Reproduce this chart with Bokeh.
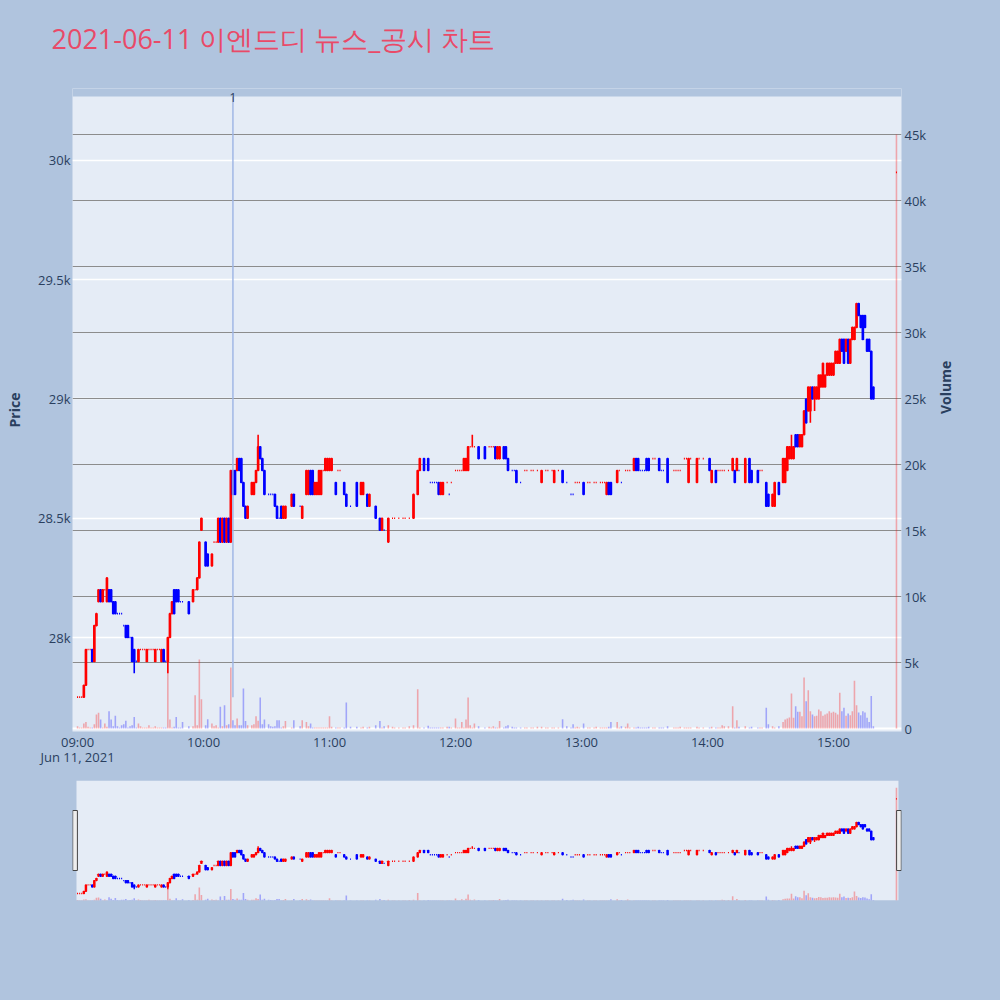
import numpy as np
import pandas as pd
from bokeh.plotting import figure
from bokeh.layouts import column
from bokeh.models import (ColumnDataSource, Range1d, LinearAxis, FixedTicker,
                          DatetimeTickFormatter, Grid, Label, GlobalInlineStyleSheet)
from bokeh.embed import file_html
from bokeh.resources import INLINE

TITLE = "2021-06-11 이엔드디 뉴스_공시 차트"
SESSION_DATE = "2021-06-11"
SESSION_START = "09:00"

# one entry per minute from 09:00 (None = no trade in that minute)
opens = [
    27750, 27750, 27750, 27750, 27800, 27950, 27950, 27950, 27900, 28050,
    28150, 28200, 28150, 28200, 28150, 28200, 28200, 28150, 28150, 28100,
    28100, 28100, 28050, 28050, 28050, 28000, 28000, 27950, 27900, 27900,
    27950, 27950, 27950, 27900, 27950, 27950, 27950, 27900, 27950, 27950,
    27900, 27950, 27900, 27900, 28000, 28100, 28200, 28200, 28200, 28150,
    28150, None, None, 28150, None, 28150, 28200, 28200, 28250, 28450,
    None, 28400, 28350, None, 28300, 28400, 28400, 28400, 28500, 28400,
    28500, 28400, 28500, 28400, 28700, 28700, 28700, 28750, 28750, 28650,
    28550, 28500, None, 28600, 28600, 28650, 28700, 28800, 28750, 28700,
    None, 28600, 28600, 28600, 28600, 28550, 28500, 28550, 28500, 28500,
    None, None, 28550, 28600, None, None, 28550, 28500, None, 28600,
    28600, 28700, 28700, 28600, 28600, 28600, 28600, 28700, 28700, 28700,
    28700, 28700, None, 28650, 28700, 28700, None, 28650, 28600, None,
    28550, None, None, 28650, None, 28600, 28600, None, 28600, 28550,
    None, None, 28550, None, 28500, 28450, 28450, None, 28400, None,
    28500, 28500, None, 28500, None, 28500, 28500, None, 28500, None,
    28500, None, 28600, 28700, None, 28750, None, 28750, 28650, 28650,
    28650, 28650, 28650, 28600, 28600, None, 28650, 28600, 28650, None,
    28700, 28700, 28700, 28700, 28700, 28700, 28700, 28800, 28800, 28800,
    None, 28800, None, None, 28800, None, 28800, 28800, 28800, 28800,
    28750, 28750, None, 28800, 28800, 28750, None, 28700, 28700, 28700,
    None, 28650, None, 28700, 28700, None, 28700, 28700, None, 28700,
    None, 28650, None, 28700, 28700, None, 28700, 28650, None, 28700,
    None, 28700, None, 28650, None, 28600, 28600, 28650, 28650, 28650,
    None, 28650, None, 28650, 28650, None, 28650, 28650, None, 28650,
    28650, 28650, 28600, 28650, 28650, None, None, 28650, 28700, 28650,
    None, 28700, 28700, 28700, None, 28700, 28750, 28750, 28700, 28700,
    28700, 28750, 28750, None, 28750, 28750, None, 28750, 28700, 28700,
    None, 28750, None, None, 28700, 28700, 28700, 28700, None, 28750,
    28750, 28650, 28750, None, None, 28650, 28750, None, 28750, None,
    None, 28750, 28650, None, 28700, 28700, 28700, 28700, 28700, None,
    28700, None, 28700, 28700, 28700, 28700, None, None, 28650, None,
    28750, 28700, None, None, 28700, 28700, 28700, None, 28650, 28600,
    None, 28550, 28550, None, 28650, None, 28650, 28650, 28700, 28750,
    28750, 28750, 28850, 28850, 28800, 28800, 28850, 29000, 28950, 28950,
    29050, 29000, 29000, 29000, 29050, 29050, 29050, 29100, 29100, 29100,
    29100, 29150, 29150, 29150, 29250, 29250, 29200, 29250, 29150, 29250,
    29250, 29300, 29400, 29350, 29350, 29350, 29250, 29250, 29200, 29050,
]
closes = [
    27750, 27750, 27750, 27800, 27950, 27950, 27950, 27900, 28050, 28100,
    28200, 28150, 28200, 28200, 28250, 28150, 28150, 28100, 28100, 28100,
    28100, 28100, 28050, 28000, 28000, 28000, 27900, 27900, 27900, 27950,
    27950, 27950, 27950, 27950, 27950, 27950, 27950, 27950, 27950, 27950,
    27950, 27900, 27900, 28000, 28100, 28150, 28100, 28150, 28150, 28150,
    28150, None, None, 28100, None, 28200, 28200, 28250, 28400, 28500,
    None, 28300, 28300, None, 28350, 28400, 28400, 28500, 28400, 28500,
    28400, 28500, 28400, 28700, 28600, 28600, 28750, 28700, 28650, 28550,
    28500, 28550, None, 28650, 28650, 28700, 28800, 28750, 28700, 28600,
    None, 28600, 28600, 28600, 28550, 28500, 28500, 28500, 28550, 28550,
    None, None, 28600, 28550, None, None, 28550, 28550, None, 28700,
    28700, 28600, 28600, 28650, 28650, 28700, 28700, 28700, 28750, 28750,
    28750, 28750, None, 28600, 28700, 28700, None, 28600, 28550, None,
    28550, None, None, 28550, None, 28650, 28650, None, 28550, 28600,
    None, None, 28500, None, 28450, 28500, 28450, None, 28500, None,
    28500, 28500, None, 28500, None, 28500, 28500, None, 28500, None,
    28600, None, 28700, 28750, None, 28700, None, 28700, 28650, 28650,
    28650, 28650, 28600, 28650, 28650, None, 28650, 28600, 28650, None,
    28700, 28700, 28700, 28700, 28750, 28750, 28800, 28800, 28800, 28800,
    None, 28750, None, None, 28750, None, 28800, 28800, 28800, 28750,
    28800, 28800, None, 28750, 28750, 28700, None, 28700, 28700, 28650,
    None, 28650, None, 28700, 28700, None, 28700, 28700, None, 28700,
    None, 28700, None, 28700, 28700, None, 28700, 28700, None, 28700,
    None, 28650, None, 28650, None, 28600, 28600, 28650, 28650, 28650,
    None, 28600, None, 28650, 28650, None, 28650, 28650, None, 28650,
    28650, 28650, 28650, 28600, 28600, None, None, 28700, 28700, 28650,
    None, 28700, 28700, 28700, None, 28750, 28700, 28700, 28700, 28700,
    28700, 28700, 28700, None, 28750, 28750, None, 28700, 28700, 28700,
    None, 28650, None, None, 28700, 28700, 28700, 28700, None, 28750,
    28750, 28750, 28750, None, None, 28750, 28750, None, 28750, None,
    None, 28700, 28700, None, 28650, 28700, 28700, 28700, 28700, None,
    28700, None, 28750, 28650, 28750, 28700, None, None, 28750, None,
    28650, 28650, None, None, 28650, 28700, 28700, None, 28550, 28550,
    None, 28600, 28650, None, 28600, None, 28750, 28750, 28800, 28800,
    28800, 28800, 28800, 28800, 28850, 28850, 28950, 28900, 29050, 29050,
    29000, 29050, 29050, 29100, 29100, 29150, 29100, 29150, 29150, 29150,
    29150, 29200, 29200, 29250, 29200, 29150, 29250, 29150, 29250, 29300,
    29300, 29400, 29350, 29300, 29250, 29300, 29200, 29200, 29000, 29000,
]
volumes = [
    175, 80, 80, 380, 500, 130, 80, 80, 330, 1060,
    1190, 680, 80, 380, 130, 1310, 680, 180, 960, 180,
    80, 250, 330, 580, 80, 180, 250, 880, 80, 380,
    180, 80, 80, 80, 250, 80, 80, 180, 80, 80,
    80, 80, 80, 4920, 680, 80, 130, 880, 80, 80,
    500, None, None, 180, None, 180, 2525, 250, 5230, 2220,
    None, 250, 700, None, 380, 180, 250, 80, 1640, 180,
    1770, 250, 330, 4620, 630, 250, 760, 250, 250, 3030,
    560, 250, None, 250, 330, 930, 580, 2350, 330, 680,
    None, 330, 180, 130, 180, 630, 630, 80, 180, 560,
    None, None, 80, 630, None, None, 180, 630, None, 500,
    180, 380, 80, 80, 80, 80, 80, 80, 80, 80,
    930, 130, None, 80, 80, 80, None, 80, 1970, None,
    130, None, None, 130, None, 80, 130, None, 80, 130,
    None, None, 250, None, 560, 80, 180, None, 250, None,
    130, 80, None, 80, None, 80, 80, None, 180, None,
    250, None, 2980, 80, None, 80, None, 200, 80, 80,
    80, 80, 80, 80, 80, None, 130, 130, 80, None,
    760, 80, 80, 500, 80, 680, 2350, 250, 80, 380,
    None, 180, None, None, 80, None, 130, 80, 180, 80,
    80, 560, None, 80, 180, 250, None, 130, 80, 80,
    None, 80, None, 80, 80, None, 80, 80, None, 130,
    None, 130, None, 80, 80, None, 80, 80, None, 80,
    None, 700, None, 180, None, 80, 330, 80, 130, 80,
    None, 380, None, 80, 80, None, 80, 130, None, 80,
    80, 80, 80, 130, 500, None, None, 500, 80, 180,
    None, 130, 380, 80, None, 80, 80, 130, 80, 80,
    80, 80, 130, None, 80, 80, None, 80, 80, 80,
    None, 180, None, None, 80, 80, 80, 130, None, 80,
    80, 80, 80, None, None, 130, 80, None, 80, None,
    None, 80, 130, None, 80, 80, 80, 250, 180, None,
    180, None, 1690, 80, 630, 130, None, None, 180, None,
    80, 130, None, None, 80, 80, 80, None, 1570, 330,
    None, 180, 80, None, 180, None, 500, 680, 760, 830,
    2650, 810, 1690, 1260, 1260, 930, 3860, 2070, 2900, 1310,
    1060, 930, 960, 1440, 1310, 960, 1060, 1140, 1310, 1190,
    1260, 1190, 1060, 2700, 1310, 1570, 960, 1140, 1010, 1310,
    3610, 1770, 1210, 1010, 1310, 1210, 810, 500, 2470, 180,
]
# wicks beyond the candle bodies (minute index -> price)
wick_high = {14: 28250, 86: 28850, 188: 28850, 340: 28850}
wick_low = {27: 27850, 43: 27850, 349: 28900, 351: 28950}

CLOSING_TIME = "15:30"
closing_price = 29950
closing_volume = 45000

news_times = ["10:14"]
news_labels = ["1"]

price_ticks = [28000, 28500, 29000, 29500, 30000]
price_tick_labels = ["28k", "28.5k", "29k", "29.5k", "30k"]
volume_ticks = [0, 5000, 10000, 15000, 20000, 25000, 30000, 35000, 40000, 45000]
volume_tick_labels = ["0", "5k", "10k", "15k", "20k", "25k", "30k", "35k", "40k", "45k"]
hour_ticks = ["09:00", "10:00", "11:00", "12:00", "13:00", "14:00", "15:00"]

# ---------------- styling ----------------
PAPER = "#B0C4DE"
PLOT_BG = "#E5ECF6"
FONT = "Open Sans"
TXT = "#2a3f5f"
UP = "#FF0000"
DOWN = "#0000FF"
TITLE_COLOR = "#E94A68"

PRICE_RANGE = (27606, 30268)      # visible plot area
VOL_RANGE = (-227, 47879)
PLOT_PX = 635                      # height of the visible plot area
TOP_STRIP_PX = 8                   # paper-coloured strip above it (room for the marker label)
SLIDER_PRICE_RANGE = (27587, 30377)
SLIDER_VOL_RANGE = (0, 47879)

# ---------------- build table ----------------
base = pd.Timestamp(f"{SESSION_DATE} {SESSION_START}")
rows = []
for i, (o, c, v) in enumerate(zip(opens, closes, volumes)):
    if o is None or c is None or v is None:
        continue
    rows.append(dict(t=base + pd.Timedelta(minutes=i), open=o, close=c,
                     high=wick_high.get(i, max(o, c)), low=wick_low.get(i, min(o, c)),
                     volume=v))
t_close = pd.Timestamp(f"{SESSION_DATE} {CLOSING_TIME}")
rows.append(dict(t=t_close, open=closing_price, close=closing_price, high=closing_price,
                 low=closing_price, volume=closing_volume))
df = pd.DataFrame(rows)

inc = []
prev_c, prev_dir = None, True
for o, c in zip(df["open"], df["close"]):
    if c > o:
        d = True
    elif c < o:
        d = False
    elif prev_c is not None and c != prev_c:
        d = c > prev_c
    else:
        d = prev_dir
    inc.append(d)
    prev_c, prev_dir = c, d
df["color"] = [UP if d else DOWN for d in inc]
df["body_top"] = df[["open", "close"]].max(axis=1)
df["body_bot"] = df[["open", "close"]].min(axis=1)
src = ColumnDataSource(df)

MIN = 60_000
x_start = df["t"].iloc[0] - pd.Timedelta(seconds=144)
x_end = df["t"].iloc[-1] + pd.Timedelta(seconds=144)
xr = Range1d(x_start, x_end)

price_per_px = (PRICE_RANGE[1] - PRICE_RANGE[0]) / PLOT_PX
vol_per_px = (VOL_RANGE[1] - VOL_RANGE[0]) / PLOT_PX
price_top_ext = PRICE_RANGE[1] + TOP_STRIP_PX * price_per_px
vol_top_ext = VOL_RANGE[1] + TOP_STRIP_PX * vol_per_px

# ---------------- title strip ----------------
p0 = figure(width=1000, height=88, output_backend="svg", toolbar_location=None,
            x_axis_location=None, y_axis_location=None,
            min_border_left=0, min_border_right=0, min_border_top=0, min_border_bottom=0,
            background_fill_color=PAPER, border_fill_color=PAPER, outline_line_color=None)
p0.grid.visible = False
p0.title.text = TITLE
p0.title.text_font = FONT
p0.title.text_font_size = "27px"
p0.title.text_font_style = "normal"
p0.title.text_color = TITLE_COLOR
p0.title.align = "left"
p0.title.vertical_align = "top"
p0.title.offset = -21
p0.title.standoff = 38

# ---------------- main figure ----------------
p = figure(width=1000, height=690, x_axis_type="datetime", x_range=xr,
           y_range=Range1d(PRICE_RANGE[0], price_top_ext), output_backend="svg",
           toolbar_location=None,
           min_border_left=72, min_border_right=99, min_border_top=0, min_border_bottom=47,
           background_fill_color=PLOT_BG, border_fill_color=PAPER, outline_line_color=None)
p.extra_y_ranges = {"vol": Range1d(VOL_RANGE[0], vol_top_ext)}

# grids
p.xgrid.visible = False
p.ygrid.ticker = FixedTicker(ticks=price_ticks)
p.ygrid.grid_line_color = "white"
p.ygrid.grid_line_width = 1.5
p.add_layout(Grid(dimension=1, y_range_name="vol", ticker=FixedTicker(ticks=volume_ticks[1:]),
                  grid_line_color="#8c8c8c", grid_line_width=1.2))
p.add_layout(Grid(dimension=1, y_range_name="vol", ticker=FixedTicker(ticks=[0]),
                  grid_line_color="white", grid_line_width=2))

# axes
vol_axis = LinearAxis(y_range_name="vol", ticker=FixedTicker(ticks=volume_ticks),
                      major_label_overrides=dict(zip(volume_ticks, volume_tick_labels)))
p.add_layout(vol_axis, "right")
# right-hand axis title, reading bottom-to-top like the left one
mid_price = int((PRICE_RANGE[0] + PRICE_RANGE[1]) // 2)
vol_title_axis = LinearAxis(ticker=FixedTicker(ticks=[mid_price]),
                            major_label_overrides={mid_price: "Volume"},
                            major_label_orientation=np.pi / 2)
p.add_layout(vol_title_axis, "right")

p.yaxis[0].ticker = FixedTicker(ticks=price_ticks)
p.yaxis[0].major_label_overrides = dict(zip(price_ticks, price_tick_labels))
p.yaxis[0].axis_label = "Price"
p.yaxis[0].axis_label_standoff = 11

hour_ms = [pd.Timestamp(f"{SESSION_DATE} {h}").value // 10**6 for h in hour_ticks]
p.xaxis[0].ticker = FixedTicker(ticks=hour_ms)
p.xaxis[0].formatter = DatetimeTickFormatter(minutes="%H:%M", hourmin="%H:%M", hours="%H:%M",
                                             context="%b %d, %Y", context_which="start")

for ax in [p.xaxis[0], p.yaxis[0], vol_axis, vol_title_axis]:
    ax.axis_line_color = None
    ax.major_tick_line_color = None
    ax.minor_tick_line_color = None
    ax.major_tick_out = 0
    ax.major_tick_in = 0
    ax.minor_tick_out = 0
    ax.minor_tick_in = 0
    ax.major_label_text_font = FONT
    ax.major_label_text_font_size = "13px"
    ax.major_label_text_color = TXT
    ax.axis_label_text_font = FONT
    ax.axis_label_text_font_size = "14px"
    ax.axis_label_text_font_style = "bold"
    ax.axis_label_text_color = TXT
p.yaxis[0].major_label_standoff = 2
p.yaxis[0].axis_label_text_line_height = 1.0
vol_axis.major_label_standoff = 3
vol_title_axis.major_label_standoff = 16
vol_title_axis.major_label_text_font_size = "14px"
vol_title_axis.major_label_text_font_style = "bold"
p.xaxis[0].major_label_standoff = 1
p.xaxis[0].major_label_text_line_height = 0.85

# paper-coloured strip above the plot area
p.quad(left=[x_start], right=[x_end], bottom=[PRICE_RANGE[1]], top=[price_top_ext],
       fill_color=PAPER, line_color=None)

# volume
p.vbar(x="t", top="volume", bottom=0, width=0.75 * MIN, source=src, y_range_name="vol",
       fill_color="color", fill_alpha=0.3, line_color=None)
# candles
p.segment(x0="t", y0="low", x1="t", y1="high", source=src, line_color="color", line_width=1.6)
p.vbar(x="t", top="body_top", bottom="body_bot", width=0.5 * MIN, source=src,
       fill_color="color", line_color="color", line_width=1.6)

# news marker
news_t = [pd.Timestamp(f"{SESSION_DATE} {t}") for t in news_times]
p.segment(x0=news_t, y0=[df["low"].min()] * len(news_t), x1=news_t,
          y1=[PRICE_RANGE[1]] * len(news_t), line_color="#9fb6e6", line_width=1.6, line_alpha=0.9)
for t, lab in zip(news_t, news_labels):
    p.add_layout(Label(x=t.value / 1e6, y=PRICE_RANGE[1], y_offset=-1, text=lab,
                       text_align="center", text_baseline="middle", text_font=FONT,
                       text_font_size="12px", text_color=TXT))

# ---------------- range slider ----------------
p2 = figure(width=1000, height=222, x_axis_type="datetime", x_range=xr,
            y_range=Range1d(*SLIDER_PRICE_RANGE), output_backend="svg", toolbar_location=None,
            x_axis_location=None, y_axis_location=None,
            min_border_left=72, min_border_right=99, min_border_top=2, min_border_bottom=100,
            background_fill_color=PAPER, border_fill_color=PAPER, outline_line_color=None)
p2.extra_y_ranges = {"vol": Range1d(*SLIDER_VOL_RANGE)}
p2.grid.visible = False
p2.quad(left=[df["t"].iloc[0] - pd.Timedelta(seconds=30)],
        right=[df["t"].iloc[-1] + pd.Timedelta(seconds=57)],
        bottom=[SLIDER_PRICE_RANGE[0]], top=[SLIDER_PRICE_RANGE[1]],
        fill_color=PLOT_BG, line_color=None)
p2.vbar(x="t", top="volume", bottom=0, width=0.75 * MIN, source=src, y_range_name="vol",
        fill_color="color", fill_alpha=0.3, line_color=None)
p2.segment(x0="t", y0="low", x1="t", y1="high", source=src, line_color="color", line_width=1.4)
p2.vbar(x="t", top="body_top", bottom="body_bot", width=0.5 * MIN, source=src,
        fill_color="color", line_color="color", line_width=1.4)
span = SLIDER_PRICE_RANGE[1] - SLIDER_PRICE_RANGE[0]
h_top = SLIDER_PRICE_RANGE[1] - 0.25 * span
h_bot = SLIDER_PRICE_RANGE[1] - 0.75 * span
hw = pd.Timedelta(seconds=140)
p2.quad(left=[x_start + pd.Timedelta(seconds=6), x_end - hw],
        right=[x_start + hw, x_end - pd.Timedelta(seconds=6)],
        bottom=[h_bot, h_bot], top=[h_top, h_top],
        fill_color="#eeeeee", line_color="#444444", line_width=1)

layout = column(p0, p, p2, spacing=0,
                stylesheets=[GlobalInlineStyleSheet(css="body { background-color: #B0C4DE; }")])

open("out.html", "w").write(file_html(layout, INLINE))
